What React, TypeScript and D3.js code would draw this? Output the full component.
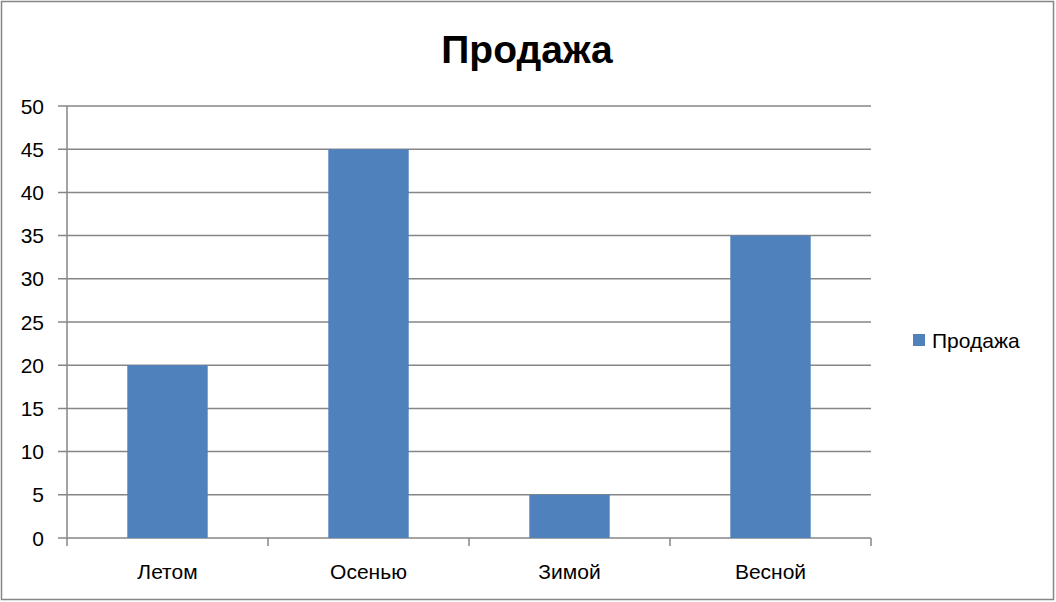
import * as d3 from 'd3';

const categories = ['Летом', 'Осенью', 'Зимой', 'Весной'];
const values = [20, 45, 5, 35];
const yTicks = [0, 5, 10, 15, 20, 25, 30, 35, 40, 45, 50];
const seriesName = 'Продажа';
const title = 'Продажа';

const W = 1056;
const H = 602;
const FONT = '"Liberation Sans", Arial, sans-serif';

export default function App() {
  const left = 67, right = 871, top = 106, bottom = 538;
  const x = d3.scaleBand<string>().domain(categories).range([left, right]).paddingInner(0.6).paddingOuter(0.3);
  const y = d3.scaleLinear().domain([0, 50]).range([bottom, top]);
  const band = d3.scaleBand<string>().domain(categories).range([left, right]);
  const bounds = [left, ...categories.map(c => (band(c) ?? 0) + band.bandwidth())];

  return (
    <svg width={W} height={H} style={{ position: 'absolute', left: 0, top: 0, background: '#fff' }}>
      <rect x={1.5} y={1.5} width={W - 4} height={H - 4} fill="#fff" stroke="#868686" strokeWidth={1.5} />
      <text x={527} y={63} textAnchor="middle" fontFamily={FONT} fontWeight="bold" fontSize={39}>{title}</text>

      {/* gridlines + y labels */}
      {yTicks.map(t => (
        <g key={t}>
          <line x1={left - 9} x2={right} y1={y(t)} y2={y(t)} stroke="#868686" strokeWidth={1.5} />
          <text x={44} y={y(t) + 7.5} textAnchor="end" fontFamily={FONT} fontSize={21} fill="#000">{t}</text>
        </g>
      ))}

      {/* y axis */}
      <line x1={left} x2={left} y1={top} y2={bottom + 8} stroke="#868686" strokeWidth={1.5} />
      {bounds.slice(1).map((b, i) => (
        <line key={i} x1={b} x2={b} y1={bottom} y2={bottom + 8} stroke="#868686" strokeWidth={1.5} />
      ))}

      {/* bars */}
      {categories.map((c, i) => (
        <rect key={c} x={x(c)} y={y(values[i])} width={x.bandwidth()} height={bottom - y(values[i])} fill="#4F81BD" />
      ))}

      {/* x labels */}
      {categories.map(c => (
        <text key={c} x={(band(c) ?? 0) + band.bandwidth() / 2} y={579} textAnchor="middle" fontFamily={FONT} fontSize={21}>{c}</text>
      ))}

      {/* legend */}
      <rect x={913} y={334} width={12} height={12} fill="#4F81BD" />
      <text x={932} y={348} fontFamily={FONT} fontSize={21}>{seriesName}</text>
    </svg>
  );
}
